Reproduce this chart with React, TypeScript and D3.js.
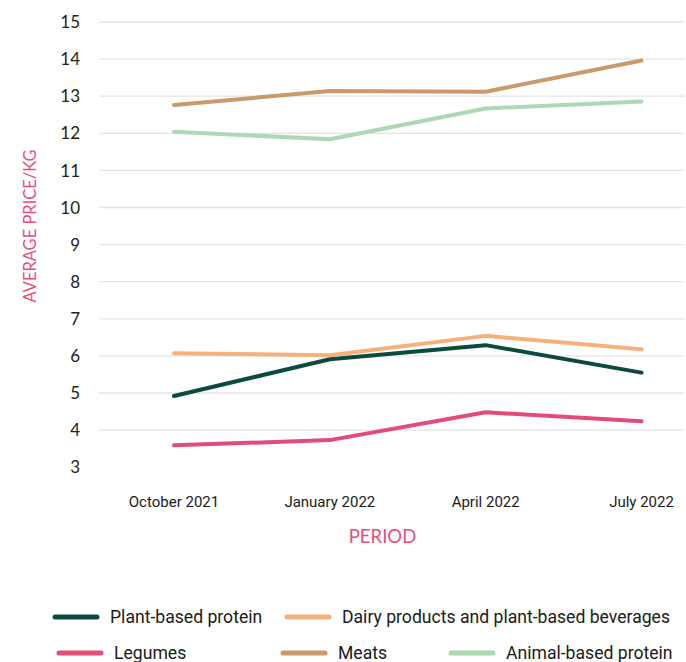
import React from "react";
import * as d3 from "d3";

const periods = ["October 2021", "January 2022", "April 2022", "July 2022"];
const yTicks = [3, 4, 5, 6, 7, 8, 9, 10, 11, 12, 13, 14, 15];

const plantBased = [4.92, 5.91, 6.29, 5.55];
const dairy = [6.07, 6.02, 6.54, 6.18];
const legumes = [3.59, 3.73, 4.48, 4.24];
const meats = [12.76, 13.14, 13.12, 13.96];
const animalBased = [12.04, 11.84, 12.67, 12.86];

const seriesNames = [
  "Plant-based protein",
  "Dairy products and plant-based beverages",
  "Legumes",
  "Meats",
  "Animal-based protein",
];
const seriesColors = ["#0c4a40", "#f6b07c", "#e24c76", "#c99a6b", "#acd8b3"];
const seriesValues = [plantBased, dairy, legumes, meats, animalBased];

// legend layout (positions only)
const legendPos = [
  { x: 55, y: 617 },
  { x: 287, y: 617 },
  { x: 59, y: 653 },
  { x: 283, y: 653 },
  { x: 451, y: 653 },
];

export default function App() {
  const W = 686;
  const H = 662;
  const x = d3.scalePoint<string>().domain(periods).range([174, 641.5]).padding(0);
  const y = d3.scaleLinear().domain([3, 15]).range([467.2, 22]);
  const line = d3
    .line<number>()
    .x((_, i) => x(periods[i]) as number)
    .y((d) => y(d));

  const gridLeft = 99;
  const gridRight = 684;

  return (
    <svg
      width={W}
      height={H}
      style={{ position: "absolute", left: 0, top: 0, background: "#fff" }}
    >
      {yTicks
        .filter((t) => t !== 3)
        .map((t) => (
          <line
            key={"g" + t}
            x1={gridLeft}
            x2={gridRight}
            y1={y(t)}
            y2={y(t)}
            stroke="#e4e4e4"
            strokeWidth={1.3}
          />
        ))}
      {yTicks.map((t) => (
        <text
          key={"t" + t}
          x={80}
          y={y(t)}
          dy="0.36em"
          textAnchor="end"
          fontFamily="Lato"
          fontSize={17}
          fill="#222"
        >
          {t}
        </text>
      ))}
      <text
        transform={`translate(36,226) rotate(-90)`}
        textAnchor="middle"
        fontFamily="Lato"
        fontSize={16.5}
        fill="#e8507b"
      >
        AVERAGE PRICE/KG
      </text>
      {periods.map((p) => (
        <text
          key={p}
          x={x(p) as number}
          y={507}
          textAnchor="middle"
          fontFamily="Roboto"
          fontSize={15}
          fill="#1a1a1a"
        >
          {p}
        </text>
      ))}
      <text
        x={382.5}
        y={543}
        textAnchor="middle"
        fontFamily="Lato"
        fontSize={18.5}
        fill="#e8507b"
      >
        PERIOD
      </text>
      {seriesValues.map((vals, i) => (
        <path
          key={seriesNames[i]}
          d={line(vals) || ""}
          fill="none"
          stroke={seriesColors[i]}
          strokeWidth={4}
          strokeLinecap="round"
          strokeLinejoin="round"
        />
      ))}
      {seriesNames.map((n, i) => (
        <g key={"l" + n} transform={`translate(${legendPos[i].x},${legendPos[i].y})`}>
          <line
            x1={0}
            x2={42}
            y1={0}
            y2={0}
            stroke={seriesColors[i]}
            strokeWidth={5}
            strokeLinecap="round"
          />
          <text
            x={55}
            y={0}
            dy="0.35em"
            fontFamily="Roboto"
            fontSize={17.6}
            fill="#1a1a1a"
          >
            {n}
          </text>
        </g>
      ))}
    </svg>
  );
}
